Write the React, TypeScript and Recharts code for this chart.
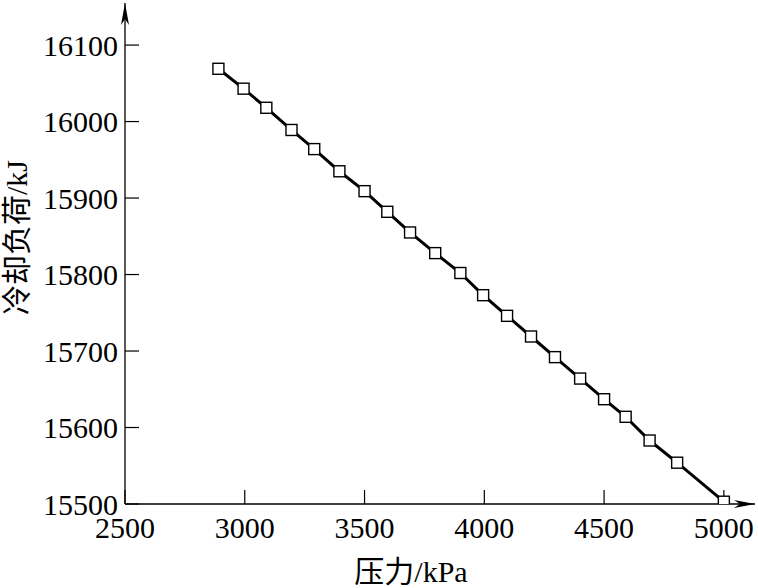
import { LineChart, Line, XAxis, YAxis, ReferenceDot } from 'recharts';

const pressure = [2890, 2995, 3090, 3195, 3290, 3395, 3500, 3595, 3690, 3795, 3900, 3995, 4095, 4195, 4295, 4400, 4500, 4590, 4690, 4805, 5000];
const coolingLoad = [16069, 16043, 16018, 15989, 15964, 15935, 15909, 15882, 15855, 15828, 15802, 15773, 15746, 15719, 15692, 15664, 15637, 15614, 15583, 15554, 15503];
const xTicks = [2500, 3000, 3500, 4000, 4500, 5000];
const yTicks = [15500, 15600, 15700, 15800, 15900, 16000, 16100];

const data = pressure.map((p, i) => ({ p, q: coolingLoad[i] }));

const FONT = '"Liberation Serif", "Times New Roman", "Noto Sans CJK SC", serif';

// open square marker
const SquareDot = (props: any) => {
    const { cx, cy, index } = props;
    if (cx == null || cy == null) return null;
    return <rect key={`sq-${index}`} x={cx - 5.5} y={cy - 5.5} width={11} height={11} fill="#fff" stroke="#000" strokeWidth={1.4} />;
};

const ArrowRight = (props: any) => {
    const { cx, cy } = props;
    return <path d={`M${cx},${cy} L${cx - 21},${cy - 4} L${cx - 15},${cy} L${cx - 21},${cy + 4} Z`} fill="#000" />;
};

const ArrowUp = (props: any) => {
    const { cx, cy } = props;
    return <path d={`M${cx},${cy} L${cx - 4},${cy + 22} L${cx},${cy + 16} L${cx + 4},${cy + 22} Z`} fill="#000" />;
};

export default function App() {
    return (
        <div style={{ position: 'absolute', left: 0, top: 0, background: '#fff' }}>
            <LineChart width={758} height={588} data={data} margin={{ top: 3, right: 3, bottom: 0, left: 0 }}>
                <XAxis
                    type="number"
                    dataKey="p"
                    domain={[2500, 5130]}
                    ticks={xTicks}
                    height={84}
                    tickSize={-14}
                    tickMargin={27}
                    axisLine={{ stroke: '#000', strokeWidth: 1.3 }}
                    tickLine={{ stroke: '#000', strokeWidth: 1.2 }}
                    tick={{ fill: '#000', fontSize: 30, fontFamily: FONT }}
                    allowDataOverflow
                    label={{ value: '压力/kPa', position: 'insideBottom', offset: 6, dx: -29, fill: '#000', fontSize: 30, fontFamily: FONT }}
                />
                <YAxis
                    type="number"
                    dataKey="q"
                    domain={[15500, 16155]}
                    ticks={yTicks}
                    width={125}
                    tickSize={-14}
                    tickMargin={21}
                    axisLine={{ stroke: '#000', strokeWidth: 1.3 }}
                    tickLine={{ stroke: '#000', strokeWidth: 1.2 }}
                    tick={{ fill: '#000', fontSize: 30, fontFamily: FONT }}
                    allowDataOverflow
                    label={{ value: '冷却负荷/kJ', angle: -90, position: 'center', dx: -46, dy: -16, fill: '#000', fontSize: 30, fontFamily: FONT }}
                />
                <ReferenceDot x={5130} y={15500} r={0} shape={ArrowRight} ifOverflow="visible" />
                <ReferenceDot x={2500} y={16155} r={0} shape={ArrowUp} ifOverflow="visible" />
                <Line
                    type="linear"
                    dataKey="q"
                    stroke="#000"
                    strokeWidth={3}
                    dot={<SquareDot />}
                    activeDot={false}
                    isAnimationActive={false}
                />
            </LineChart>
        </div>
    );
}
